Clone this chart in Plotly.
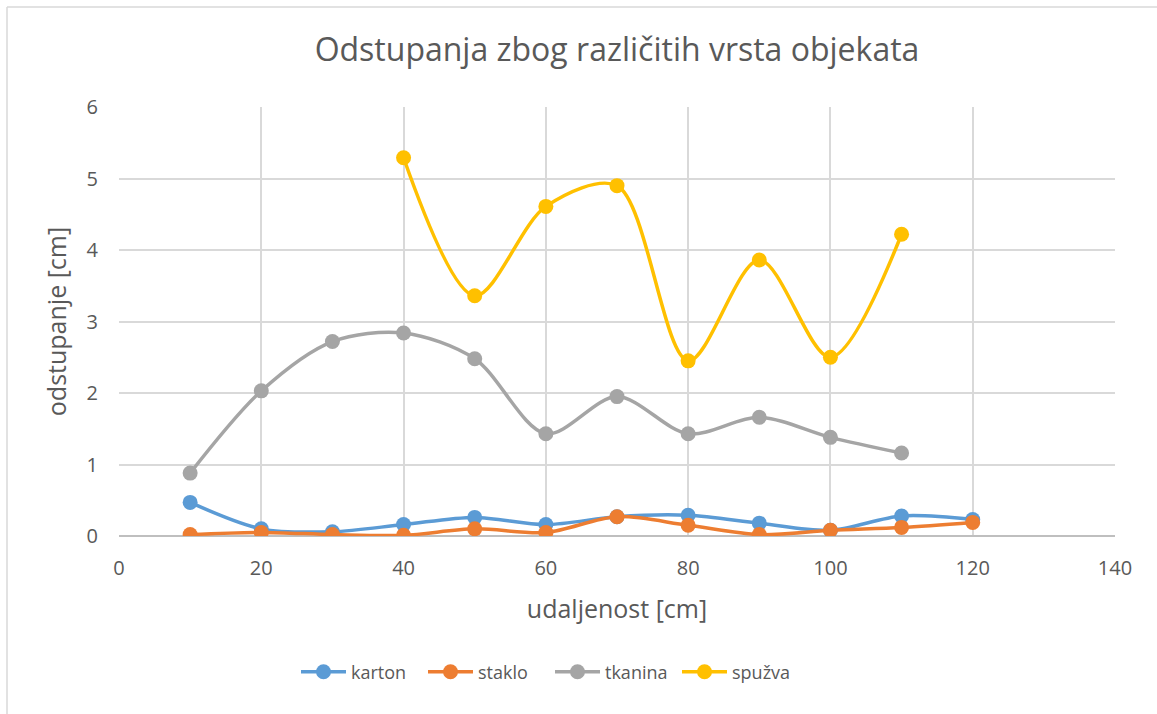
import plotly.graph_objects as go

x_vals = [10, 20, 30, 40, 50, 60, 70, 80, 90, 100, 110, 120]
karton = [0.47, 0.10, 0.06, 0.16, 0.26, 0.16, 0.27, 0.29, 0.18, 0.08, 0.28, 0.23]
staklo = [0.02, 0.05, 0.02, 0.01, 0.10, 0.05, 0.27, 0.15, 0.02, 0.08, 0.12, 0.19]
tkanina_x = [10, 20, 30, 40, 50, 60, 70, 80, 90, 100, 110]
tkanina = [0.88, 2.03, 2.72, 2.84, 2.48, 1.43, 1.95, 1.43, 1.66, 1.38, 1.16]
spuzva_x = [40, 50, 60, 70, 80, 90, 100, 110]
spuzva = [5.29, 3.36, 4.61, 4.90, 2.45, 3.86, 2.50, 4.22]

series = [
    ("karton", x_vals, karton, "#5B9BD5"),
    ("staklo", x_vals, staklo, "#ED7D31"),
    ("tkanina", tkanina_x, tkanina, "#A5A5A5"),
    ("spužva", spuzva_x, spuzva, "#FFC000"),
]

FONT = "Open Sans"
fig = go.Figure()
for name, xs, ys, col in series:
    fig.add_trace(go.Scatter(
        x=xs, y=ys, name=name, mode="lines+markers",
        line=dict(color=col, width=3.5, shape="spline", smoothing=0.9),
        marker=dict(color=col, size=15),
    ))

W, H = 1157, 714
L, R, T, B = 119, 42, 107, 178
pw, ph = W - L - R, H - T - B

def px_to_paper_x(px):
    return (px - L) / pw

def px_to_paper_y(py):
    return (H - B - py) / ph

fig.update_layout(
    width=W, height=H,
    margin=dict(l=L, r=R, t=T, b=B),
    paper_bgcolor="white", plot_bgcolor="white",
    font=dict(family=FONT, color="#595959"),
    title=dict(text="Odstupanja zbog različitih vrsta objekata",
               x=0.5, xref="paper", xanchor="center",
               y=1 - 50 / H, yanchor="middle",
               font=dict(size=32, color="#595959", family=FONT)),
    xaxis=dict(range=[0, 140], dtick=20, tick0=0,
               showgrid=True, gridcolor="#D9D9D9", gridwidth=1.5,
               zeroline=False, showline=False, ticks="",
               tickfont=dict(size=20, color="#595959"),
               ticklabelstandoff=18,
               title=dict(text="udaljenost [cm]", font=dict(size=25, color="#595959"), standoff=20)),
    yaxis=dict(range=[0, 6], dtick=1,
               showgrid=True, gridcolor="#D9D9D9", gridwidth=1.5,
               zeroline=True, zerolinecolor="#BFBFBF", zerolinewidth=1.5,
               showline=False, ticks="",
               tickfont=dict(size=20, color="#595959"),
               ticklen=0, ticklabelstandoff=20,
               title=dict(text="odstupanje [cm]", font=dict(size=25, color="#595959"), standoff=12)),
    legend=dict(orientation="h", x=0.5 - 67 / pw, xanchor="center",
                y=px_to_paper_y(672), yanchor="middle",
                font=dict(size=18, color="#595959"),
                itemwidth=45, entrywidth=67, entrywidthmode="pixels",
                tracegroupgap=0),
    showlegend=True,
)

# outer chart border (top and left visible)
fig.add_shape(type="line", xref="paper", yref="paper",
              x0=px_to_paper_x(7), x1=px_to_paper_x(W + 5),
              y0=px_to_paper_y(7), y1=px_to_paper_y(7),
              line=dict(color="#D9D9D9", width=1.5), layer="below")
fig.add_shape(type="line", xref="paper", yref="paper",
              x0=px_to_paper_x(7), x1=px_to_paper_x(7),
              y0=px_to_paper_y(7), y1=px_to_paper_y(H + 5),
              line=dict(color="#D9D9D9", width=1.5), layer="below")

fig.write_html("out.html", config={"displayModeBar": False},
               post_script="document.body.style.margin='0px';")
